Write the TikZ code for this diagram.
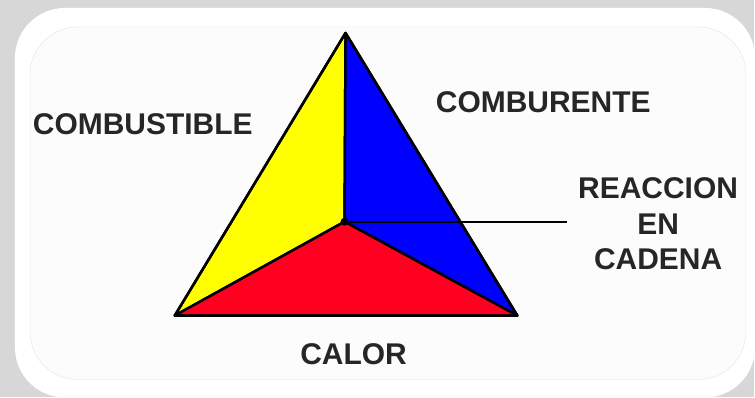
\documentclass[tikz,border=0pt]{standalone}
\usepackage{fontspec}
\setmainfont{Liberation Sans}
\usetikzlibrary{%
	calc,%
	positioning,%
}
\definecolor{cyellow}{RGB}{255, 255, 0}
\definecolor{cblue}{RGB}{0, 0, 255}
\definecolor{cred}{RGB}{255, 0, 32}
\definecolor{cpaper}{RGB}{252, 252, 252}
\definecolor{cedge}{RGB}{228, 228, 228}
\definecolor{cshadow}{RGB}{215, 215, 215}
\tikzset{
	nodes={align=center},%
	face/.style={%
			draw=black,%
			line width=2.5pt,%
			line join=round},%
	tag/.style={%
			font={\bfseries\fontsize{30}{36}\selectfont},%
			inner sep=0pt,%
			text=black!85},%
	lead/.style={%
			draw=black,%
			line width=2pt},%
}

\begin{document}
\begin{tikzpicture}[x=1pt, y=-1pt]%
	% frame
	\fill[cshadow] (0,0) rectangle (755,398);
	\fill[white, rounded corners=50pt] (15,8) rectangle (756,398);
	\filldraw[fill=cpaper, draw=cedge, rounded corners=48pt] (30,27) rectangle (747,380);
	\useasboundingbox (0,0) rectangle (755,398);

	\coordinate (apex) at (346,33);
	\coordinate (left) at (175,316);
	\coordinate (right) at (518,316);
	\coordinate (core) at (345,222);

	\fill[cyellow, face] (apex) -- (core) -- (left) -- cycle;
	\fill[cblue, face] (apex) -- (right) -- (core) -- cycle;
	\fill[cred, face] (left) -- (core) -- (right) -- cycle;
	\draw[face] (apex) -- (left) -- (right) -- cycle;
	\fill (core) circle (4pt);

	\node[tag] (fuel) at (143,124) {COMBUSTIBLE};
	\node[tag] (oxygen) at (544,102) {COMBURENTE};
	\node[tag] (chain) at (659,224) {REACCION\\EN\\CADENA};
	\node[tag] (heat) at (354,355) {CALOR};

	\coordinate[left=11pt of chain.west |- core] (tail);
	\draw[lead] (core) -- (tail);
\end{tikzpicture}
\end{document}
